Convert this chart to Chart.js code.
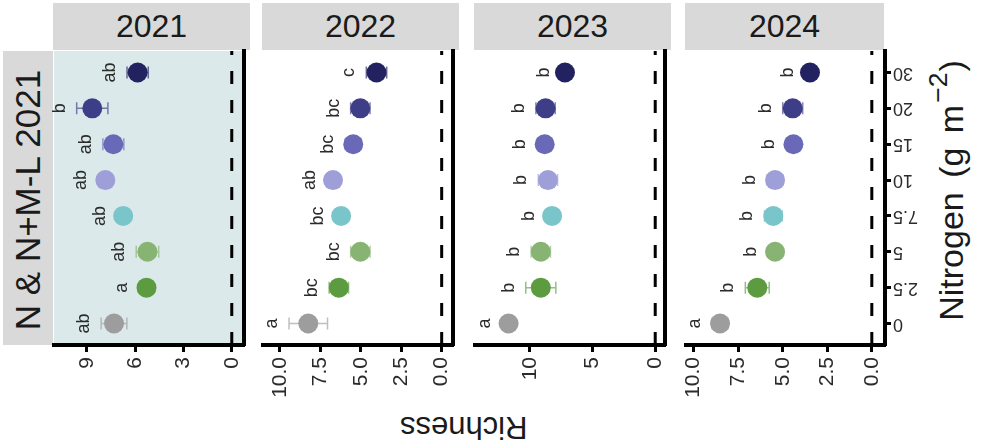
<!DOCTYPE html>
<html>
<head>
<meta charset="utf-8">
<script src="https://cdn.jsdelivr.net/npm/chart.js@4"></script>
<style>
  body { margin: 0; width: 981px; height: 444px; background: #fff; position: relative; overflow: hidden;
         font-family: "Liberation Sans", Arial, sans-serif; color: #1a1a1a; }
  .panel { position: absolute; top: 0; height: 444px; }
  .strip { position: absolute; top: 3px; height: 47px; background: #d9d9d9; font-size: 32px;
           display: flex; align-items: center; justify-content: center; }
  .rowstrip { position: absolute; left: 3px; top: 51px; width: 50px; height: 294px; background: #d9d9d9; }
  .rot { position: absolute; white-space: nowrap; transform-origin: center center; }
  #yTitle { word-spacing: 5px; }
  sup { font-size: 0.78em; vertical-align: 0.62em; line-height: 0; margin-left: 2px; margin-right: 1px; }
</style>
</head>
<body>
<div class="rowstrip"></div>
<div class="rot" id="rowLabel" style="font-size:35px">N &amp; N+M-L 2021</div>
<div class="rot" id="xTitle" style="font-size:31px">Richness</div>
<div class="rot" id="yTitle" style="font-size:34px">Nitrogen (g m<sup>&minus;2</sup>)</div>

<script>
'use strict';

// nitrogen treatments, bottom to top
const nitrogenLevels = ['0', '2.5', '5', '7.5', '10', '15', '20', '30'];
const years = ['2021', '2022', '2023', '2024'];

// mean richness per treatment
const richness2021 = [7.32, 5.30, 5.24, 6.75, 7.86, 7.36, 8.67, 5.85];
const richness2022 = [8.25, 6.36, 5.03, 6.22, 6.72, 5.47, 5.03, 4.03];
const richness2023 = [11.7, 9.13, 9.13, 8.23, 8.56, 8.82, 8.75, 7.2];
const richness2024 = [8.52, 6.43, 5.43, 5.53, 5.43, 4.40, 4.44, 3.47];

// standard errors
const se2021 = [0.8, 0.45, 0.7, 0.4, 0.45, 0.65, 0.97, 0.66];
const se2022 = [1.19, 0.6, 0.6, 0.4, 0.4, 0.5, 0.6, 0.63];
const se2023 = [0.5, 1.2, 0.77, 0.5, 0.77, 0.6, 0.77, 0.3];
const se2024 = [0.45, 0.67, 0.4, 0.5, 0.45, 0.4, 0.56, 0.3];

// post-hoc letters
const letters2021 = ['ab', 'a', 'ab', 'ab', 'ab', 'ab', 'b', 'ab'];
const letters2022 = ['a', 'bc', 'bc', 'bc', 'ab', 'bc', 'bc', 'c'];
const letters2023 = ['a', 'b', 'b', 'b', 'b', 'b', 'b', 'b'];
const letters2024 = ['a', 'b', 'b', 'b', 'b', 'b', 'b', 'b'];

// richness tick labels per facet (free scales)
const ticks2021 = ['9', '6', '3', '0'];
const ticks2022 = ['10.0', '7.5', '5.0', '2.5', '0.0'];
const ticks2023 = ['10', '5', '0'];
const ticks2024 = ['10.0', '7.5', '5.0', '2.5', '0.0'];

// axis limits per facet [low, high]
const limits2021 = [-0.76, 11.05];
const limits2022 = [-0.70, 11.05];
const limits2023 = [-0.78, 14.38];
const limits2024 = [-0.74, 10.43];

const pointColours = ['#9d9d9d', '#5c9b40', '#87b472', '#7ac5ca', '#9e9ed9', '#6969b7', '#3d3e87', '#222260'];

const font = '"Liberation Sans", Arial, sans-serif';
const plotTop = 51;
const plotBottom = 345;
const panelBoxes = [
  { left: 54, right: 251 },
  { left: 263, right: 460 },
  { left: 475, right: 672 },
  { left: 686, right: 885 }
];

const panels = [
  { year: years[0], mean: richness2021, se: se2021, letters: letters2021, ticks: ticks2021, limits: limits2021, shaded: true },
  { year: years[1], mean: richness2022, se: se2022, letters: letters2022, ticks: ticks2022, limits: limits2022 },
  { year: years[2], mean: richness2023, se: se2023, letters: letters2023, ticks: ticks2023, limits: limits2023 },
  { year: years[3], mean: richness2024, se: se2024, letters: letters2024, ticks: ticks2024, limits: limits2024, yLabels: true }
];

function placeRotated(id, cx, cy, deg) {
  const el = document.getElementById(id);
  const w = el.offsetWidth, h = el.offsetHeight;
  el.style.left = (cx - w / 2) + 'px';
  el.style.top = (cy - h / 2) + 'px';
  el.style.transform = 'rotate(' + deg + 'deg)';
}
placeRotated('rowLabel', 28, 200, -90);
placeRotated('xTitle', 464, 427, 180);
placeRotated('yTitle', 951, 190, -90);

// shaded background, zero line, error bars, letters
const facetDecor = {
  id: 'facetDecor',
  beforeDraw(chart) {
    const p = chart.options.plugins.facetDecor;
    const a = chart.chartArea;
    const ctx = chart.ctx;
    if (p.shaded) {
      ctx.save();
      ctx.fillStyle = '#dbe9eb';
      ctx.fillRect(a.left, a.top, a.right - a.left, a.bottom - a.top);
      ctx.restore();
    }
  },
  beforeDatasetsDraw(chart) {
    const p = chart.options.plugins.facetDecor;
    const a = chart.chartArea;
    const ctx = chart.ctx;
    const xs = chart.scales.x, ys = chart.scales.y;
    ctx.save();
    // reference line at zero
    const x0 = xs.getPixelForValue(0);
    ctx.strokeStyle = '#000';
    ctx.lineWidth = 3;
    ctx.setLineDash([13, 16]);
    ctx.beginPath();
    ctx.moveTo(x0, a.bottom);
    ctx.lineTo(x0, a.top);
    ctx.stroke();
    ctx.setLineDash([]);
    // error bars
    ctx.lineWidth = 1.5;
    p.mean.forEach((m, i) => {
      const y = ys.getPixelForValue(i);
      const xl = xs.getPixelForValue(m + p.se[i]);
      const xr = xs.getPixelForValue(m - p.se[i]);
      ctx.strokeStyle = pointColours[i];
      ctx.globalAlpha = 0.65;
      ctx.beginPath();
      ctx.moveTo(xl, y); ctx.lineTo(xr, y);
      ctx.moveTo(xl, y - 6); ctx.lineTo(xl, y + 6);
      ctx.moveTo(xr, y - 6); ctx.lineTo(xr, y + 6);
      ctx.stroke();
    });
    ctx.restore();
  },
  afterDatasetsDraw(chart) {
    const p = chart.options.plugins.facetDecor;
    const a = chart.chartArea;
    const ctx = chart.ctx;
    const xs = chart.scales.x, ys = chart.scales.y;
    ctx.save();
    ctx.fillStyle = '#2b2b2b';
    ctx.font = '18px ' + font;
    ctx.textAlign = 'center';
    ctx.textBaseline = 'middle';
    p.letters.forEach((t, i) => {
      const x = xs.getPixelForValue(p.mean[i] + p.se[i]) - 17;
      const y = ys.getPixelForValue(i);
      ctx.save();
      ctx.translate(x, y);
      ctx.rotate(-Math.PI / 2);
      ctx.fillText(t, 0, 0);
      ctx.restore();
    });
    // nitrogen tick labels on the outer facet
    if (p.yLabels) {
      ctx.fillStyle = '#2b2b2b';
      ctx.font = '18px ' + font;
      ctx.textAlign = 'right';
      nitrogenLevels.forEach((lab, i) => {
        const y = ys.getPixelForValue(i);
        ctx.save();
        ctx.translate(a.right + 8, y);
        ctx.rotate(Math.PI);
        ctx.fillText(lab, 0, 0);
        ctx.restore();
      });
    }
    ctx.restore();
  }
};

panels.forEach((p, k) => {
  const box = panelBoxes[k];
  const rightW = p.yLabels ? 80 : 3;
  const padL = 20;

  const strip = document.createElement('div');
  strip.className = 'strip';
  strip.style.left = (box.left - 1) + 'px';
  strip.style.width = (box.right - box.left) + 'px';
  strip.textContent = p.year;
  document.body.appendChild(strip);

  const holder = document.createElement('div');
  holder.className = 'panel';
  holder.style.left = (box.left - padL) + 'px';
  holder.style.width = (box.right - box.left + padL + rightW) + 'px';
  const canvas = document.createElement('canvas');
  holder.appendChild(canvas);
  document.body.appendChild(holder);

  const tickValues = p.ticks.map(Number);

  new Chart(canvas, {
    type: 'scatter',
    data: {
      datasets: [{
        data: p.mean.map((m, i) => ({ x: m, y: i })),
        pointRadius: 10,
        pointHoverRadius: 10,
        pointBackgroundColor: pointColours,
        pointBorderWidth: 0
      }]
    },
    options: {
      responsive: true,
      maintainAspectRatio: false,
      animation: false,
      events: [],
      layout: { padding: { left: padL, top: plotTop, right: 0, bottom: 0 } },
      plugins: {
        legend: { display: false },
        tooltip: { enabled: false },
        facetDecor: { mean: p.mean, se: p.se, letters: p.letters, shaded: !!p.shaded, yLabels: !!p.yLabels }
      },
      scales: {
        x: {
          type: 'linear',
          position: 'bottom',
          reverse: true,
          min: p.limits[0],
          max: p.limits[1],
          afterBuildTicks: (scale) => { scale.ticks = tickValues.map(v => ({ value: v })); },
          afterFit: (scale) => {
            scale.height = 444 - plotBottom;
            scale.paddingLeft = 0;
            scale.paddingRight = 0;
          },
          grid: { drawOnChartArea: false, drawTicks: true, tickLength: 7, tickWidth: 3, tickColor: '#000' },
          border: { display: true, color: '#000', width: 4 },
          ticks: {
            autoSkip: false,
            minRotation: 90,
            maxRotation: 90,
            padding: 5,
            color: '#2b2b2b',
            font: { family: font, size: 21 },
            callback: (v) => p.ticks[tickValues.indexOf(v)]
          }
        },
        y: {
          type: 'linear',
          position: 'right',
          min: -0.6,
          max: 7.6,
          afterBuildTicks: (scale) => { scale.ticks = nitrogenLevels.map((_, i) => ({ value: i })); },
          afterFit: (scale) => {
            scale.width = rightW;
            scale.paddingTop = 0;
            scale.paddingBottom = 0;
          },
          grid: { drawOnChartArea: false, drawTicks: !!p.yLabels, tickLength: 6, tickWidth: 3, tickColor: '#000' },
          border: { display: true, color: '#000', width: 4 },
          ticks: { display: false }
        }
      }
    },
    plugins: [facetDecor]
  });
});
</script>
</body>
</html>
